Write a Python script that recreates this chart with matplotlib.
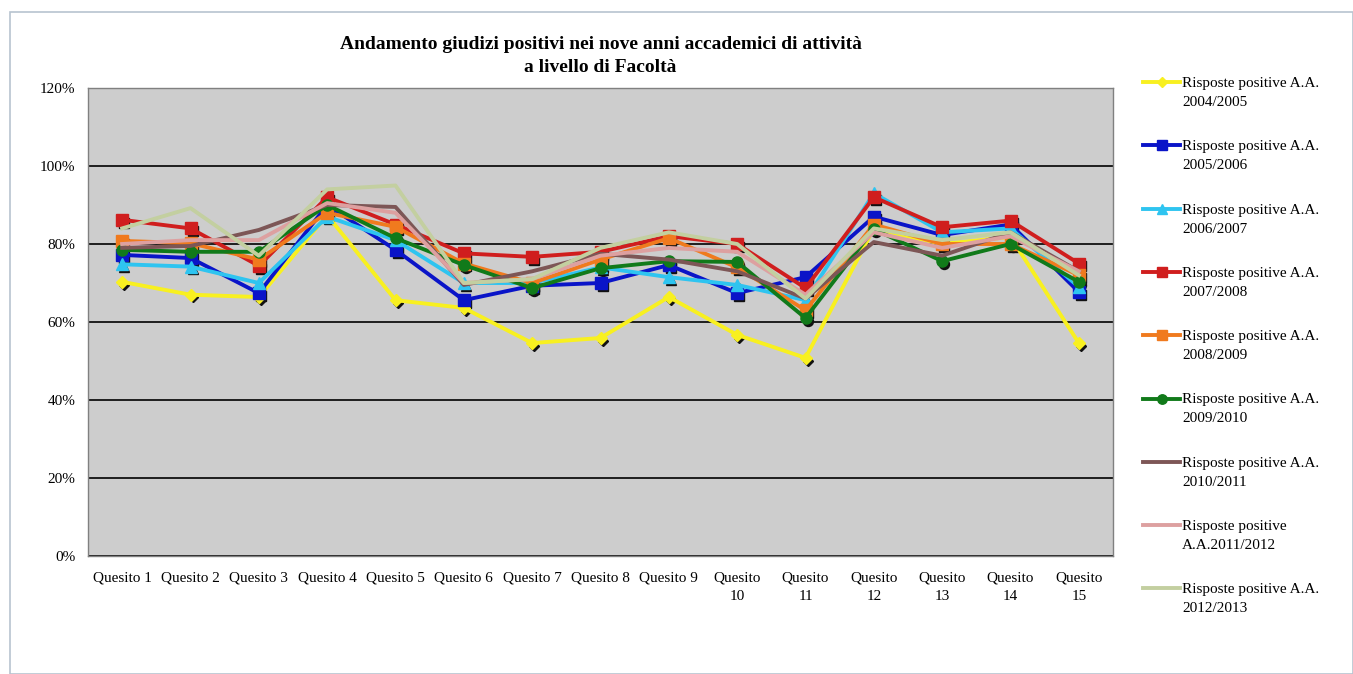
import matplotlib
matplotlib.use("Agg")
import matplotlib.pyplot as plt
from matplotlib.lines import Line2D
from matplotlib.patches import Rectangle
import matplotlib.transforms as mtransforms

plt.rcParams['font.family'] = ['Liberation Serif', 'DejaVu Serif']

categories = ["Quesito 1", "Quesito 2", "Quesito 3", "Quesito 4", "Quesito 5",
              "Quesito 6", "Quesito 7", "Quesito 8", "Quesito 9", "Quesito\n10",
              "Quesito\n11", "Quesito\n12", "Quesito\n13", "Quesito\n14", "Quesito\n15"]

labels = ["Risposte positive A.A.\n2004/2005",
          "Risposte positive A.A.\n2005/2006",
          "Risposte positive A.A.\n2006/2007",
          "Risposte positive A.A.\n2007/2008",
          "Risposte positive A.A.\n2008/2009",
          "Risposte positive A.A.\n2009/2010",
          "Risposte positive A.A.\n2010/2011",
          "Risposte positive\nA.A.2011/2012",
          "Risposte positive A.A.\n2012/2013"]

aa_2004_05 = [70.3, 67.0, 66.4, 87.4, 65.6, 63.6, 54.6, 55.9, 66.4, 56.7, 50.8, 84.0, 80.0, 81.8, 54.6]
aa_2005_06 = [77.2, 76.4, 67.4, 90.0, 78.5, 65.6, 69.3, 70.0, 74.6, 67.4, 71.5, 87.0, 82.3, 85.0, 67.7]
aa_2006_07 = [74.8, 74.2, 70.0, 87.0, 81.0, 70.0, 70.0, 74.0, 71.5, 69.5, 65.6, 93.0, 83.0, 84.0, 69.0]
aa_2007_08 = [86.2, 84.0, 74.4, 92.0, 85.0, 77.6, 76.7, 78.0, 82.0, 80.0, 68.7, 92.0, 84.3, 86.0, 75.0]
aa_2008_09 = [80.8, 80.2, 76.0, 88.0, 84.4, 75.0, 70.0, 76.0, 81.5, 74.0, 63.0, 85.0, 80.0, 80.0, 72.0]
aa_2009_10 = [78.5, 78.0, 78.0, 90.0, 81.5, 74.6, 68.7, 73.8, 75.6, 75.4, 61.0, 83.8, 75.6, 80.0, 70.3]
aa_2010_11 = [79.0, 79.5, 83.6, 90.0, 89.5, 69.5, 73.0, 77.5, 76.0, 73.0, 66.0, 80.5, 77.0, 83.0, 73.0]
aa_2011_12 = [80.0, 81.0, 81.0, 90.5, 88.0, 70.0, 71.0, 77.0, 79.0, 78.0, 67.0, 83.0, 79.0, 82.0, 73.0]
aa_2012_13 = [84.0, 89.2, 77.0, 94.0, 95.0, 70.0, 71.0, 79.0, 83.0, 80.0, 66.0, 84.0, 81.0, 83.0, 72.0]

series = [aa_2004_05, aa_2005_06, aa_2006_07, aa_2007_08, aa_2008_09,
          aa_2009_10, aa_2010_11, aa_2011_12, aa_2012_13]

colors = ["#F8F020", "#0A14C8", "#2EC4F0", "#D01E1E", "#F07A1E",
          "#117A1A", "#7D5656", "#DDA0A0", "#C3CFA0"]
markers = ["D", "s", "^", "s", "s", "o", None, None, None]
msizes = [6, 8, 8, 8, 8, 8, 0, 0, 0]

W, H = 1353, 674
fig = plt.figure(figsize=(W / 100, H / 100), dpi=100)
fig.patch.set_facecolor("white")

# chart area border
fig.add_artist(Rectangle((10 / W, 0.0), (W - 10) / W, 1 - 12 / H, transform=fig.transFigure,
                         fill=False, edgecolor="#B8C4D0", linewidth=1.2))

left, right, top, bottom = 88, 1113, 88, 556
ax = fig.add_axes([left / W, 1 - bottom / H, (right - left) / W, (bottom - top) / H])
ax.set_facecolor("#CDCDCD")

x = list(range(len(categories)))
shadow = ax.transData + mtransforms.ScaledTranslation(1.5 / 72, -2 / 72, fig.dpi_scale_trans)
for vals, c, m, ms in zip(series, colors, markers, msizes):
    ax.plot(x, vals, color=c, linewidth=2.8, marker=m, markersize=ms,
            markeredgecolor=c, markerfacecolor=c, zorder=3)
    if m is not None:
        ax.plot(x, vals, linestyle="none", marker=m, markersize=ms * 0.9,
                markerfacecolor="#111111", markeredgecolor="#111111", zorder=2.9,
                transform=shadow)

ax.set_xlim(-0.5, len(categories) - 0.5)
ax.set_ylim(0, 120)
ax.set_yticks(range(0, 121, 20))
ax.set_yticklabels([f"{v}%" for v in range(0, 121, 20)])
ax.set_xticks(x)
ax.set_xticklabels(categories)
for t in ax.get_xticklabels():
    t.set_linespacing(1.6)
ax.yaxis.grid(True, color="black", linewidth=1.2)
ax.set_axisbelow(True)
ax.tick_params(axis="both", labelsize=11, length=0)
ax.tick_params(axis="y", pad=9)
ax.tick_params(axis="x", pad=11)
for s in ax.spines.values():
    s.set_color("#808080")
    s.set_linewidth(1.0)

fig.text((left + right) / 2 / W, 1 - 56 / H,
         "Andamento giudizi positivi nei nove anni accademici di attività\na livello di Facoltà",
         ha="center", va="center", fontsize=14, fontweight="bold", linespacing=1.4)

# legend
y0 = 82
step = 63.3
for i, (lab, c, m, ms) in enumerate(zip(labels, colors, markers, msizes)):
    yy = 1 - (y0 + i * step) / H
    fig.add_artist(Line2D([1143 / W, 1180 / W], [yy, yy], transform=fig.transFigure,
                          color=c, linewidth=2.8))
    if m is not None:
        fig.add_artist(Line2D([1161.5 / W], [yy], transform=fig.transFigure,
                              color=c, marker=m, markersize=ms * 0.85, linestyle="none"))
    fig.text(1182 / W, yy + 5 / H, lab, ha="left", va="top", fontsize=11, linespacing=1.6)

fig.savefig("out.png", dpi=100)
